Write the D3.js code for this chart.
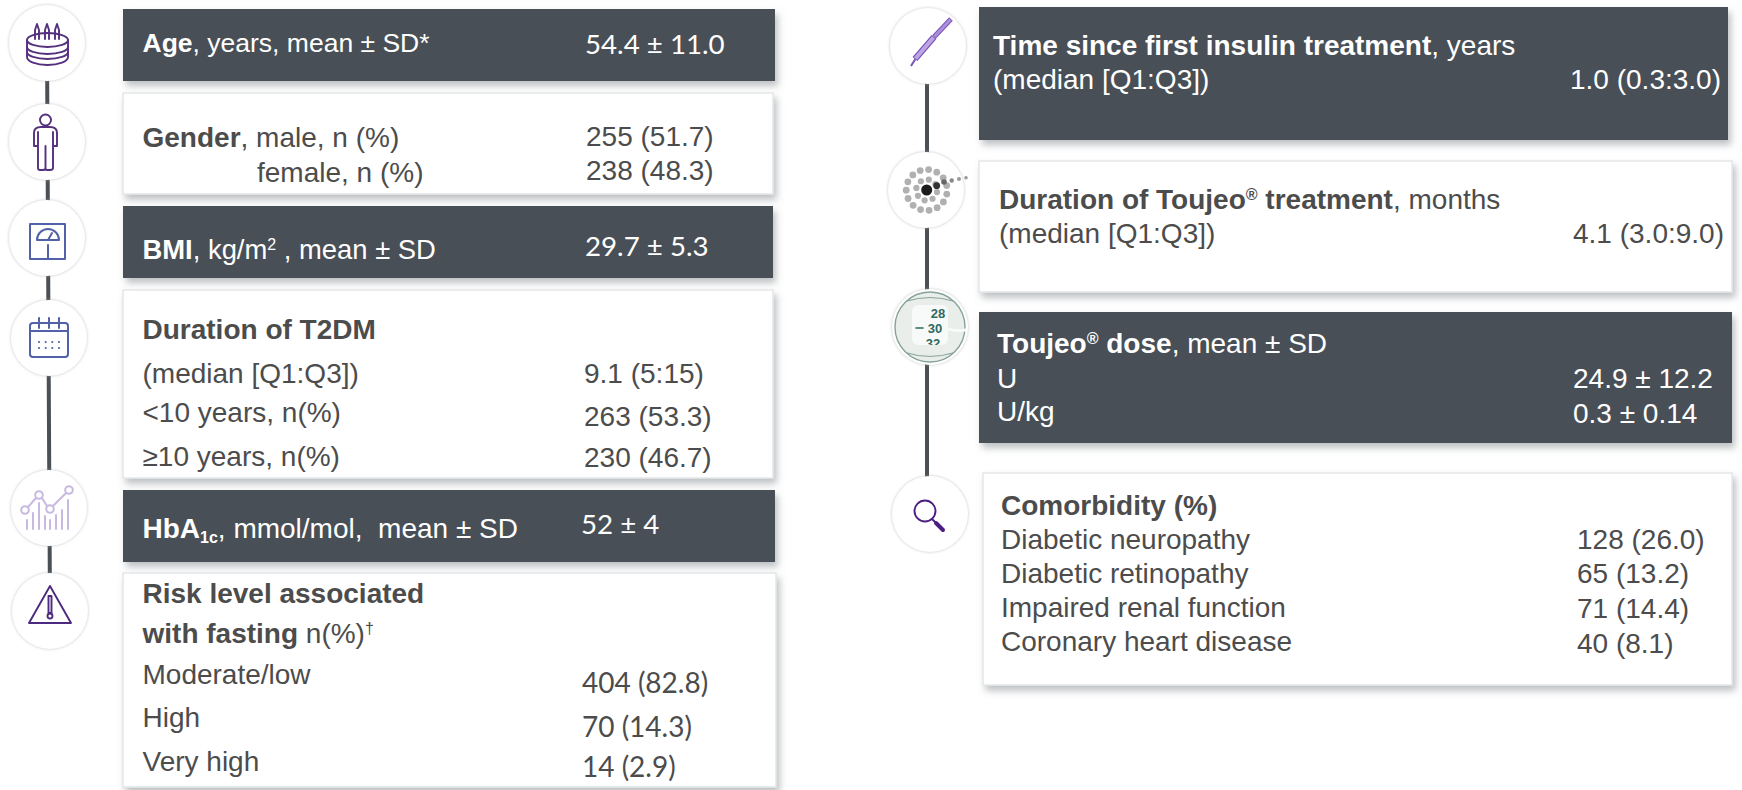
<!DOCTYPE html>
<html>
<head>
<meta charset="utf-8">
<script src="https://cdn.jsdelivr.net/npm/d3@7"></script>
<style>
    html, body { margin: 0; padding: 0; background: #fff; overflow: hidden; }
    svg { display: block; }
    text { font-family: "Liberation Sans", Arial, sans-serif; font-size: 28px; }
</style>
</head>
<body>
<script>
// row ids, one per line of text
const rowIds = ["age", "male", "female", "bmi", "t2dm", "t2dmMedian", "under10", "over10", "hba1c",
    "risk1", "risk2", "riskLow", "riskHigh", "riskVeryHigh",
    "insulin", "insulinMedian", "toujeo", "toujeoMedian", "dose", "doseU", "doseUkg",
    "comorbidity", "neuropathy", "retinopathy", "renal", "coronary"];

// <b> = bold, <sup>/<sub> = raised and lowered
const rowLabels = ["<b>Age</b>, years, mean ± SD*", "<b>Gender</b>, male, n (%)", "female, n (%)",
    "<b>BMI</b>, kg/m<sup>2</sup> , mean ± SD", "<b>Duration of T2DM</b>", "(median [Q1:Q3])",
    "<10 years, n(%)", "≥10 years, n(%)", "<b>HbA</b><bsub>1c</bsub>, mmol/mol,  mean ± SD",
    "<b>Risk level associated</b>", "<b>with fasting</b> n(%)<sup>†</sup>", "Moderate/low", "High", "Very high",
    "<b>Time since first insulin treatment</b>, years", "(median [Q1:Q3])",
    "<b>Duration of Toujeo</b><bsup>®</bsup><b> treatment</b>, months", "(median [Q1:Q3])",
    "<b>Toujeo</b><bsup>®</bsup><b> dose</b>, mean ± SD", "U", "U/kg",
    "<b>Comorbidity (%)</b>", "Diabetic neuropathy", "Diabetic retinopathy", "Impaired renal function", "Coronary heart disease"];

const rowValues = ["54.4 ± 11.0", "255 (51.7)", "238 (48.3)", "29.7 ± 5.3", "", "9.1 (5:15)",
    "263 (53.3)", "230 (46.7)", "52 ± 4", "", "", "404 (82.8)", "70 (14.3)", "14 (2.9)",
    "", "1.0 (0.3:3.0)", "", "4.1 (3.0:9.0)", "", "24.9 ± 12.2", "0.3 ± 0.14",
    "", "128 (26.0)", "65 (13.2)", "71 (14.4)", "40 (8.1)"];

// panels: which rows sit in which box
const panelIds = ["age", "gender", "bmi", "t2dm", "hba1c", "risk", "insulin", "toujeo", "dose", "comorbidity"];
const panelRows = [["age"], ["male", "female"], ["bmi"], ["t2dm", "t2dmMedian", "under10", "over10"], ["hba1c"],
    ["risk1", "risk2", "riskLow", "riskHigh", "riskVeryHigh"], ["insulin", "insulinMedian"],
    ["toujeo", "toujeoMedian"], ["dose", "doseU", "doseUkg"],
    ["comorbidity", "neuropathy", "retinopathy", "renal", "coronary"]];
const panelDark = ["age", "bmi", "hba1c", "insulin", "dose"];

// layout, kept apart from the values above
const panelBox = d3.scaleOrdinal(panelIds, [
    [123, 9, 652, 72], [123, 93, 650, 101], [123, 206, 650, 72], [123, 290, 650, 188], [123, 490, 652, 72],
    [123, 573, 653, 214], [979, 7, 749, 133], [979, 161, 753, 131], [979, 312, 753, 131], [983, 473, 749, 212]]);
const labelX = d3.scaleOrdinal(rowIds, [142.5, 142.5, 257, 142.5, 142.5, 142.5, 142.5, 142.5, 142.5, 142.5, 142.5, 142.5, 142.5, 142.5,
    993, 993, 999, 999, 997, 997, 997, 1001, 1001, 1001, 1001, 1001]);
const labelY = d3.scaleOrdinal(rowIds, [52, 147, 182, 259, 339, 383, 422, 466, 538, 603, 643, 684, 727, 771,
    55, 89, 209, 243, 353, 388, 421, 515, 549, 583, 617, 651]);
const valueX = d3.scaleOrdinal(rowIds, [585, 586, 586, 585, 584, 584, 584, 584, 581, 582, 582, 582, 582, 582,
    1570, 1570, 1573, 1573, 1573, 1573, 1573, 1577, 1577, 1577, 1577, 1577]);
const valueY = d3.scaleOrdinal(rowIds, [54, 146, 180, 256, 383, 383, 426, 467, 534, 693, 693, 693, 737, 777,
    89, 89, 243, 243, 388, 388, 423, 549, 549, 583, 618, 653]);
const thinValues = { age: "27.7px", bmi: "27.7px", hba1c: "27.7px", riskLow: "28px", riskHigh: "28px", riskVeryHigh: "28px" };
const tightRows = { age: "26.5px", bmi: "27.4px" };

const circleCentres = [[47, 43], [47, 142], [47, 238], [49, 338], [49, 508], [50, 611],
    [928, 46], [926, 190], [930, 327], [930, 514]];
const spineSegments = [[[47, 43], [49, 430], [50, 611]], [[927, 46], [927, 514]]];

const darkBg = "#4a5056", darkText = "#4c4c4c", purple = "#55307f", blue = "#5261a8";

const svg = d3.select("body").append("svg").attr("width", 1742).attr("height", 790);
const defs = svg.append("defs");

defs.append("filter").attr("id", "boxShadow")
    .attr("x", "-3%").attr("y", "-10%").attr("width", "106%").attr("height", "125%")
    .append("feDropShadow").attr("dx", 3).attr("dy", 5).attr("stdDeviation", 3.5)
    .attr("flood-color", "#7b8389").attr("flood-opacity", 0.5);
defs.append("filter").attr("id", "circleShadow")
    .attr("x", "-20%").attr("y", "-20%").attr("width", "140%").attr("height", "140%")
    .append("feDropShadow").attr("dx", 0).attr("dy", 0).attr("stdDeviation", 1.6)
    .attr("flood-color", "#a8a8a8").attr("flood-opacity", 0.7);

// spines behind the circles
svg.append("g").selectAll("path")
    .data(spineSegments)
    .join("path")
    .attr("d", d3.line())
    .attr("fill", "none")
    .attr("stroke", darkBg)
    .attr("stroke-width", 4);

svg.append("g").selectAll("circle")
    .data(circleCentres)
    .join("circle")
    .attr("cx", d => d[0])
    .attr("cy", d => d[1])
    .attr("r", 38)
    .attr("fill", "#fff")
    .attr("filter", "url(#circleShadow)");

// panels
svg.append("g").selectAll("rect")
    .data(panelIds)
    .join("rect")
    .attr("x", d => panelBox(d)[0])
    .attr("y", d => panelBox(d)[1])
    .attr("width", d => panelBox(d)[2])
    .attr("height", d => panelBox(d)[3])
    .attr("fill", d => panelDark.includes(d) ? darkBg : "#fff")
    .attr("stroke", d => panelDark.includes(d) ? "none" : "#e4e6e7")
    .attr("stroke-width", 1.5)
    .attr("filter", "url(#boxShadow)");

function appendRich(text, markup) {
    let shifted = 0;
    const parts = markup.split(/(<b>.*?<\/b>|<sup>.*?<\/sup>|<bsup>.*?<\/bsup>|<bsub>.*?<\/bsub>)/).filter(p => p);
    parts.forEach(part => {
        const m = part.match(/^<(b|sup|bsup|bsub)>(.*)<\/\1>$/);
        const kind = m ? m[1] : "plain";
        const shift = kind == "bsub" ? 5 : (kind == "sup" || kind == "bsup") ? -9 : 0;
        const span = text.append("tspan")
            .attr("xml:space", "preserve")
            .text(m ? m[2] : part)
            .attr("dy", shift - shifted);
        shifted = shift;
        if (kind == "b" || kind == "bsup" || kind == "bsub") span.attr("font-weight", "bold");
        if (kind != "b" && kind != "plain") span.style("font-size", "16px");
    });
}

// one group per panel, rows inside it
const panels = svg.append("g").selectAll("g")
    .data(panelIds)
    .join("g")
    .attr("fill", d => panelDark.includes(d) ? "#fff" : darkText);

panels.each(function (panelId, i) {
    const rows = panelRows[i];

    d3.select(this).selectAll("text.label")
        .data(rows)
        .join("text")
        .attr("class", "label")
        .attr("x", d => labelX(d))
        .attr("y", d => labelY(d))
        .style("white-space", "pre")
        .style("font-size", d => tightRows[d] || null)
        .each(function (d) { appendRich(d3.select(this), rowLabels[rowIds.indexOf(d)]); });

    d3.select(this).selectAll("text.value")
        .data(rows.filter(d => rowValues[rowIds.indexOf(d)] != ""))
        .join("text")
        .attr("class", "value")
        .attr("x", d => valueX(d))
        .attr("y", d => valueY(d))
        .style("font-family", d => thinValues[d] ? "Lato, 'Liberation Sans', sans-serif" : null)
        .style("font-size", d => thinValues[d] || null)
        .text(d => rowValues[rowIds.indexOf(d)]);
});

// icons
const icons = svg.append("g").attr("fill", "none").attr("stroke-linecap", "round").attr("stroke-linejoin", "round");

function drawCake(g) {
    g.attr("stroke", purple).attr("stroke-width", 1.9);
    g.append("path").attr("d", "M27 40 A20.5 7 0 0 1 68 40 L68 57 A20.5 8 0 0 1 27 57 Z");
    g.append("path").attr("d", "M27 40 A20.5 7 0 0 0 68 40 M27 47 A20.5 7 0 0 0 68 47 M27 52 A20.5 7 0 0 0 68 52");
    [37, 47, 57].forEach(x => {
        g.append("path").attr("d", `M${x - 2} 39 V30 L${x} 24 L${x + 2} 30 V39`);
    });
}

function drawPerson(g) {
    g.attr("stroke", purple).attr("stroke-width", 1.9);
    g.append("circle").attr("cx", 45.5).attr("cy", 120).attr("r", 5.5);
    g.append("path").attr("d", "M41 127 H50 Q57 127 57 133 V146 H53 V132 M53 140 V168 Q53 170 50 170 H47 Q45.5 170 45.5 168 V146 V168 Q45.5 170 43 170 H40 Q38 170 38 168 V132 M38 140 V146 H34 V133 Q34 127 41 127");
}

function drawScale(g) {
    g.attr("stroke", blue).attr("stroke-width", 2);
    g.append("rect").attr("x", 30).attr("y", 224).attr("width", 35).attr("height", 35);
    g.append("path").attr("d", "M37 240 A11 11 0 0 1 59 240 Z M48 240 L52 233 M48 245 V259");
}

function drawCalendar(g) {
    g.attr("stroke", blue).attr("stroke-width", 2);
    g.append("rect").attr("x", 30).attr("y", 323).attr("width", 38).attr("height", 34).attr("rx", 3);
    g.append("path").attr("d", "M30 331 H68 M39 318 V328 M49 318 V328 M59 318 V328");
    g.selectAll("circle")
        .data(d3.cross([39, 45.7, 52.3, 59], [342, 348]))
        .join("circle")
        .attr("cx", d => d[0]).attr("cy", d => d[1]).attr("r", 1.1)
        .attr("fill", blue).attr("stroke", "none");
}

function drawTrend(g) {
    const lilac = "#c8b9e0";
    g.attr("stroke", lilac).attr("stroke-width", 2);
    g.append("path").attr("d", "M27 529 V520 M33 529 V513 M39 529 V503 M45 529 V516 M50 529 V520 M56 529 V515 M62 529 V510 M68 529 V500");
    g.append("path").attr("d", "M28 507 L36 498 M42 498 L47 506 M53 506 L66 493");
    g.selectAll("circle")
        .data([[25, 510], [39, 495], [50, 509], [69, 490]])
        .join("circle")
        .attr("cx", d => d[0]).attr("cy", d => d[1]).attr("r", 3.8).attr("fill", "#fff");
}

function drawWarning(g) {
    g.attr("stroke", "#4b2a80").attr("stroke-width", 1.9);
    g.append("path").attr("d", "M50 586 L71 623 H29 Z");
    g.append("path").attr("d", "M48.5 596 H51.5 V613 H48.5 Z");
    g.append("circle").attr("cx", 50).attr("cy", 616).attr("r", 2.5);
}

function drawPen(g) {
    g.attr("stroke-linecap", "butt");
    g.append("path").attr("d", "M911 66 L916 58").attr("stroke", "#7a55b8").attr("stroke-width", 2);
    g.append("path").attr("d", "M915 59 L934 37").attr("stroke", "#7a55b8").attr("stroke-width", 6.5);
    g.append("path").attr("d", "M915.5 58.5 L933.5 37.5").attr("stroke", "#bba5e2").attr("stroke-width", 4);
    g.append("path").attr("d", "M934 37 L951 19").attr("stroke", "#7a55b8").attr("stroke-width", 5);
    g.append("path").attr("d", "M934.5 36.5 L950.5 19.5").attr("stroke", "#a98fdc").attr("stroke-width", 3);
}

function drawInjectionDots(g) {
    const ring = (n, r, size) => d3.range(n).map(i => {
        const a = i / n * 2 * Math.PI + 0.2;
        return [926.7 + r * Math.cos(a), 190 + r * Math.sin(a), size];
    });
    g.selectAll("circle.ring")
        .data(ring(8, 10.5, 3.1).concat(ring(15, 20.5, 3.4)))
        .join("circle")
        .attr("cx", d => d[0]).attr("cy", d => d[1]).attr("r", d => d[2])
        .attr("fill", "#b0b0b0").attr("stroke", "none");
    g.selectAll("circle.tail")
        .data([[926.7, 190, 5.5, "#1c1c1c"], [936.7, 185.7, 3.4, "#333"], [944, 182, 2.8, "#666"],
            [951.7, 180.5, 2.2, "#888"], [959, 179, 2, "#999"], [966, 177.7, 1.8, "#999"]])
        .join("circle")
        .attr("cx", d => d[0]).attr("cy", d => d[1]).attr("r", d => d[2])
        .attr("fill", d => d[3]).attr("stroke", "none");
}

function drawDial(g) {
    g.append("clipPath").attr("id", "dialClip")
        .append("rect").attr("x", 912).attr("y", 305).attr("width", 36).attr("height", 40).attr("rx", 6);
    g.append("circle").attr("cx", 930).attr("cy", 327).attr("r", 35)
        .attr("fill", "#e9eeeb").attr("stroke", "#86a399").attr("stroke-width", 1.4);
    g.append("path").attr("d", "M907 301 Q930 294 953 301 M907 353 Q930 360 953 353")
        .attr("stroke", "#86a399").attr("stroke-width", 1);
    g.append("rect").attr("x", 912).attr("y", 305).attr("width", 36).attr("height", 40).attr("rx", 6)
        .attr("fill", "#f8faf9");
    g.append("path").attr("d", "M946 328 Q955 332 965 330").attr("stroke", "#f8faf9").attr("stroke-width", 3);
    g.append("path").attr("d", "M916 328 H923").attr("stroke", "#2f6b5e").attr("stroke-width", 1.6);
    const dialText = g.append("g").attr("clip-path", "url(#dialClip)");
    dialText.selectAll("text")
        .data([["28", 938, 318], ["30", 935, 333], ["32", 933, 348]])
        .join("text")
        .attr("x", d => d[1])
        .attr("y", d => d[2])
        .attr("text-anchor", "middle")
        .attr("fill", "#2f6b5e")
        .attr("stroke", "none")
        .attr("font-weight", "bold")
        .style("font-size", "13px")
        .text(d => d[0]);
}

function drawMagnifier(g) {
    g.attr("stroke", "#4b1f82");
    g.append("circle").attr("cx", 925).attr("cy", 511).attr("r", 10.5).attr("stroke-width", 1.9);
    g.append("path").attr("d", "M932 519 L936 523").attr("stroke-width", 1.9);
    g.append("path").attr("d", "M936 523 L943 530").attr("stroke-width", 4);
}

[drawCake, drawPerson, drawScale, drawCalendar, drawTrend, drawWarning,
    drawPen, drawInjectionDots, drawDial, drawMagnifier].forEach(draw => draw(icons.append("g")));
</script>
</body>
</html>
